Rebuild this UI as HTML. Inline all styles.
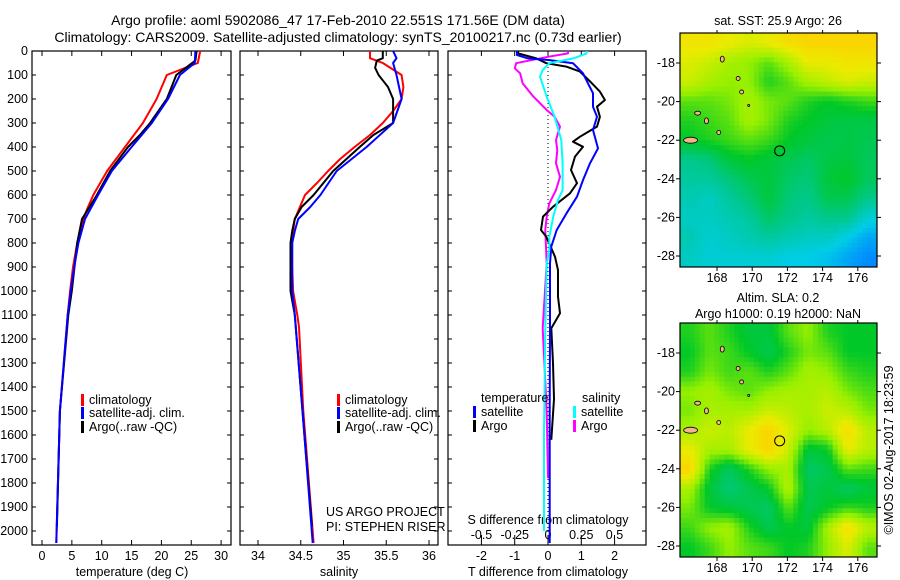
<!DOCTYPE html>
<html><head><meta charset="utf-8"><style>
html,body{margin:0;padding:0;background:#fff}
svg{display:block;font-family:"Liberation Sans",sans-serif}
text{font-size:12.5px;fill:#000}
</style></head><body>
<svg id="svg" width="900" height="580" viewBox="0 0 900 580" xmlns="http://www.w3.org/2000/svg">
<defs>
<clipPath id="clipTop"><rect x="680" y="33" width="197" height="234"/></clipPath>
<clipPath id="clipBot"><rect x="680" y="323" width="197" height="234"/></clipPath>
</defs>
<text x="338" y="25" text-anchor="middle" style="font-size:14px">Argo profile: aoml 5902086_47 17-Feb-2010 22.551S 171.56E (DM data)</text>
<text x="338" y="42" text-anchor="middle" style="font-size:14px">Climatology: CARS2009. Satellite-adjusted climatology: synTS_20100217.nc (0.73d earlier)</text>
<g id="g"></g>
</svg>
<script>
// ---- data ----
var depthTicks=[0,100,200,300,400,500,600,700,800,900,1000,1100,1200,1300,1400,1500,1600,1700,1800,1900,2000];
var tTicks=[0,5,10,15,20,25,30];
var sTicks=[34,34.5,35,35.5,36];
var dTTicks=[-2,-1,0,1,2];
var dSTicks=[-0.5,-0.25,0,0.25,0.5];
var dSTickLabels=["-0.5","-0.25","0","0.25","0.5"];

var tClimDepth=[0,50,100,200,300,400,500,600,650,700,800,900,1000,1100,1500,2050];
var tClimVal=[26.5,26.1,20.9,19.2,16.9,13.9,10.9,8.6,7.7,6.9,5.9,5.2,4.7,4.3,3.0,2.4];
var tSatDepth=[0,50,100,200,300,400,500,600,700,800,900,1000,1100,1500,2050];
var tSatVal=[25.7,25.6,23.1,21.1,18.4,15.0,11.7,9.4,7.2,6.1,5.4,4.8,4.3,3.0,2.4];
var tArgoDepth=[0,40,100,200,300,350,400,500,600,700,800,1000,1100,1500,1980];
var tArgoVal=[25.9,25.7,22.5,20.9,18.1,16.4,14.4,11.4,9.2,6.7,5.9,5.0,4.4,3.0,2.5];

var sClimDepth=[0,30,50,100,150,200,250,300,350,400,450,500,550,600,650,700,750,800,900,1000,1100,1150,1500,2050];
var sClimVal=[35.31,35.31,35.46,35.68,35.70,35.68,35.58,35.46,35.31,35.13,34.96,34.82,34.69,34.55,34.49,34.43,34.41,34.40,34.40,34.41,34.46,34.48,34.53,34.65];
var sSatDepth=[0,30,50,100,200,300,400,500,600,650,700,750,800,1000,1100,1500,2050];
var sSatVal=[35.58,35.62,35.58,35.62,35.68,35.58,35.27,34.92,34.73,34.61,34.47,34.43,34.40,34.40,34.43,34.52,34.64];
var sArgoDepth=[0,30,40,70,100,150,200,300,350,400,500,600,650,700,750,800,1000,1100,1500,1980];
var sArgoVal=[35.46,35.46,35.39,35.37,35.41,35.52,35.58,35.58,35.35,35.19,34.88,34.65,34.51,34.43,34.40,34.38,34.38,34.43,34.52,34.63];

var dTSatDepth=[0,17,31,38,51,93,135,176,232,274,329,406,468,538,607,676,746,815,885,1155,1500,2050];
var dTSatVal=[-0.93,-0.93,-0.6,0.05,0.75,1.05,1.2,1.35,1.35,1.47,1.35,1.5,1.26,1.05,0.87,0.56,0.26,0.1,0.06,0.06,0.05,0.05];
var dTArgoDepth=[0,10,31,51,65,86,135,169,204,232,274,315,357,378,399,440,496,551,593,649,690,746,774,857,913,1024,1093,1155,1300,1450,1620];
var dTArgoVal=[-0.9,-0.9,-0.35,-0.05,0.55,0.96,1.32,1.56,1.71,1.47,1.56,1.47,0.96,0.75,1.05,0.81,0.69,0.87,0.66,0.15,-0.15,-0.21,-0.05,0.21,0.3,0.3,0.36,0.1,0.15,0.18,0.1];
var dSArgoDepth=[0,10,24,51,72,93,135,190,246,274,315,371,413,468,524,579,635,690,746,885,1155,1500,1780];
var dSArgoVal=[0.15,0.15,0.0,-0.24,-0.25,-0.21,-0.19,-0.11,-0.01,0.05,0.09,0.06,0.07,0.06,0.09,0.06,0.01,-0.01,-0.02,-0.01,-0.04,-0.01,0.0];
var dSSatDepth=[0,10,31,51,79,107,190,274,371,468,579,621,690,774,829,885,1155,1600,2000];
var dSSatVal=[0.29,0.29,0.19,0.01,-0.04,-0.06,-0.01,0.05,0.1,0.11,0.11,0.075,0.04,0.01,0.01,-0.01,-0.02,-0.03,-0.03];

var mapLonTicks=[168,170,172,174,176];
var mapLatTicks=[-18,-20,-22,-24,-26,-28];
var sstGrid=[
[.82,.82,.8,.78,.8,.84,.86,.86,.86,.86],
[.78,.76,.72,.7,.66,.72,.8,.8,.82,.82],
[.76,.72,.7,.7,.62,.66,.72,.75,.78,.76],
[.66,.66,.68,.72,.68,.66,.62,.6,.62,.64],
[.62,.64,.66,.72,.68,.62,.6,.58,.57,.57],
[.6,.62,.64,.66,.64,.6,.58,.56,.57,.56],
[.5,.52,.58,.6,.58,.56,.54,.57,.58,.55],
[.48,.48,.52,.56,.58,.54,.52,.58,.6,.55],
[.46,.44,.48,.52,.58,.52,.5,.56,.56,.5],
[.44,.44,.46,.48,.54,.5,.48,.5,.5,.42],
[.46,.42,.44,.46,.48,.46,.44,.44,.4,.34],
[.44,.42,.42,.42,.42,.4,.4,.38,.34,.3]];
var slaGrid=[
[.62,.66,.62,.58,.58,.66,.7,.62,.6,.6],
[.6,.66,.64,.6,.56,.62,.68,.66,.6,.6],
[.62,.68,.64,.66,.62,.66,.72,.7,.64,.62],
[.7,.72,.68,.66,.7,.72,.72,.74,.68,.65],
[.68,.72,.72,.72,.76,.74,.72,.76,.74,.68],
[.72,.76,.74,.8,.86,.78,.7,.74,.84,.74],
[.8,.72,.72,.8,.86,.76,.58,.6,.8,.74],
[.86,.62,.54,.62,.7,.72,.54,.56,.66,.64],
[.72,.58,.52,.56,.6,.74,.56,.58,.54,.58],
[.68,.6,.58,.56,.54,.66,.56,.6,.64,.62],
[.64,.7,.72,.62,.56,.6,.58,.72,.84,.74],
[.6,.64,.7,.66,.64,.6,.62,.7,.78,.66]];
var argoLon=171.56, argoLat=-22.55;

// ---- helpers ----
var NS="http://www.w3.org/2000/svg";
var G=document.getElementById('g');
function mk(tag,attrs,parent){var e=document.createElementNS(NS,tag);for(var k in attrs)e.setAttribute(k,attrs[k]);(parent||G).appendChild(e);return e;}
function txt(x,y,s,anchor,name,size){var t=mk('text',{x:x,y:y,'text-anchor':anchor||'start'});if(size)t.style.fontSize=size+'px';t.textContent=s;


return t;}
var PT=51, PB=545;
function yD(d){return 51+d*0.24;}
var panels=[{x0:32,x1:231},{x0:240,x1:438},{x0:448,x1:646}];
function xT(v){return 42+v*5.97;}
function xS(v){return 258+(v-34)*85.5;}
function xDT(v){return 548+v*33.3;}
function xDS(v){return 548+v*133;}

function line(depths,vals,xf,color,name,w){
  var pts=depths.map(function(d,i){return xf(vals[i]).toFixed(1)+','+yD(d).toFixed(1);}).join(' ');
  var p=mk('polyline',{points:pts,fill:'none',stroke:color,'stroke-width':w||2,'stroke-linejoin':'round'});
  
  
}

panels.forEach(function(p,i){
  var r=mk('rect',{x:p.x0,y:PT,width:p.x1-p.x0,height:PB-PT,fill:'none',stroke:'#000','stroke-width':1.2});
  
  
  depthTicks.forEach(function(d){
    var y=yD(d);
    mk('line',{x1:p.x0,x2:p.x0+4,y1:y,y2:y,stroke:'#000'});
    mk('line',{x1:p.x1-4,x2:p.x1,y1:y,y2:y,stroke:'#000'});
  });
});
depthTicks.forEach(function(d){txt(28,yD(d)+4,String(d),'end','y-tick-label');});

tTicks.forEach(function(v){var x=xT(v);mk('line',{x1:x,x2:x,y1:PB,y2:PB-5,stroke:'#000'});mk('line',{x1:x,x2:x,y1:PT,y2:PT+5,stroke:'#000'});txt(x,560,String(v),'middle','x-tick-label-temperature');});
txt(132,576,'temperature (deg C)','middle','x-axis-title-temperature');
sTicks.forEach(function(v){var x=xS(v);mk('line',{x1:x,x2:x,y1:PB,y2:PB-5,stroke:'#000'});mk('line',{x1:x,x2:x,y1:PT,y2:PT+5,stroke:'#000'});txt(x,560,String(v),'middle','x-tick-label-salinity');});
txt(339,576,'salinity','middle','x-axis-title-salinity');
dTTicks.forEach(function(v){var x=xDT(v);mk('line',{x1:x,x2:x,y1:PB,y2:PB-5,stroke:'#000'});mk('line',{x1:x,x2:x,y1:PT,y2:PT+5,stroke:'#000'});txt(x,560,String(v),'middle','x-tick-label-t-diff');});
dSTicks.forEach(function(v,i){var x=xDS(v);mk('line',{x1:x,x2:x,y1:PB-5,y2:PB-10,stroke:'#000'});txt(x,539,dSTickLabels[i],'middle','x-tick-label-s-diff');});
txt(548,524,'S difference from climatology','middle','s-diff-axis-title');
txt(548,576,'T difference from climatology','middle','x-axis-title-t-diff');
var zl=mk('line',{x1:548,x2:548,y1:PT,y2:PB,stroke:'#000','stroke-dasharray':'1,3'});



line(tClimDepth,tClimVal,xT,'#ff0000','temperature-climatology-line');
line(tArgoDepth,tArgoVal,xT,'#000000','temperature-argo-line');
line(tSatDepth,tSatVal,xT,'#0000ff','temperature-satellite-line');
line(sClimDepth,sClimVal,xS,'#ff0000','salinity-climatology-line');
line(sArgoDepth,sArgoVal,xS,'#000000','salinity-argo-line');
line(sSatDepth,sSatVal,xS,'#0000ff','salinity-satellite-line');
line(dSArgoDepth,dSArgoVal,xDS,'#ff00ff','s-diff-argo-line');
line(dTArgoDepth,dTArgoVal,xDT,'#000000','t-diff-argo-line');
line(dTSatDepth,dTSatVal,xDT,'#0000ff','t-diff-satellite-line');
line(dSSatDepth,dSSatVal,xDS,'#00ffff','s-diff-satellite-line');

function legItem(x,y,color,label,name){
  var r=mk('rect',{x:x,y:y-10,width:3,height:12,fill:color});
  
  
  txt(x+8,y,label,'start',name);
}
[[81,'legend-panel1'],[337,'legend-panel2']].forEach(function(a){
  legItem(a[0],404,'#ff0000','climatology',a[1]+'-climatology');
  legItem(a[0],417,'#0000ff','satellite-adj. clim.',a[1]+'-satellite');
  legItem(a[0],431,'#000000','Argo(..raw -QC)',a[1]+'-argo');
});
txt(481,402,'temperature','start','legend-temperature-heading');
legItem(473,416,'#0000ff','satellite','legend-t-satellite');
legItem(473,430,'#000000','Argo','legend-t-argo');
txt(582,402,'salinity','start','legend-salinity-heading');
legItem(573,416,'#00ffff','satellite','legend-s-satellite');
legItem(573,430,'#ff00ff','Argo','legend-s-argo');
txt(326,516,'US ARGO PROJECT','start','project-label');
txt(326,531,'PI: STEPHEN RISER','start','pi-label');

// maps
function cmap(v){
  var st=[[0.3,[0,140,255]],[0.4,[0,205,230]],[0.5,[0,200,140]],[0.6,[0,200,40]],[0.7,[150,240,0]],[0.8,[235,235,0]],[0.88,[255,205,0]],[0.95,[255,170,0]]];
  if(v<=st[0][0])return 'rgb('+st[0][1]+')';
  for(var i=1;i<st.length;i++){if(v<=st[i][0]){var a=st[i-1],b=st[i],f=(v-a[0])/(b[0]-a[0]);
    return 'rgb('+[0,1,2].map(function(k){return Math.round(a[1][k]+f*(b[1][k]-a[1][k]));}).join(',')+')';}}
  return 'rgb('+st[st.length-1][1]+')';
}
function sample(grid,fr,fc){
  var rows=grid.length,cols=grid[0].length;
  fr=Math.max(0,Math.min(rows-1,fr));fc=Math.max(0,Math.min(cols-1,fc));
  var r0=Math.floor(fr),c0=Math.floor(fc),r1=Math.min(rows-1,r0+1),c1=Math.min(cols-1,c0+1),a=fr-r0,b=fc-c0;
  return grid[r0][c0]*(1-a)*(1-b)+grid[r0][c1]*(1-a)*b+grid[r1][c0]*a*(1-b)+grid[r1][c1]*a*b;
}
function mapLon(l){return 717+(l-168)*17.6;}
function drawMap(grid,y0,clip,name){
  var x0=680,w=197,h=234,SUB=4;
  var frame=mk('g',{'clip-path':'url(#'+clip+')'});
  
  
  var rows=grid.length,cols=grid[0].length,NR=rows*SUB,NC=cols*SUB,cw=w/NC,ch=h/NR;
  for(var r=0;r<NR;r++)for(var c=0;c<NC;c++){
    var v=sample(grid,(r+0.5)/SUB-0.5,(c+0.5)/SUB-0.5);
    var cell=mk('rect',{x:(x0+c*cw).toFixed(2),y:(y0+r*ch).toFixed(2),width:(cw+0.6).toFixed(2),height:(ch+0.6).toFixed(2),fill:cmap(v)},frame);
    
    
  }
  var isl=[[168.3,-17.8,2,3],[169.2,-18.8,2,2],[169.4,-19.5,2,2],[166.9,-20.6,3,2],[167.4,-21.0,2,3],[168.1,-21.6,2,2],[166.5,-22.0,7,3],[169.8,-20.2,1,1]];
  isl.forEach(function(s){var e=mk('ellipse',{cx:mapLon(s[0]),cy:y0+30+(-s[1]-18)*19.3,rx:s[2],ry:s[3],fill:'#f5b48c',stroke:'#000','stroke-width':0.8},frame);
    
    });
  var bd=mk('rect',{x:x0,y:y0,width:w,height:h,fill:'none',stroke:'#000','stroke-width':1.2});
  
  
  var c=mk('circle',{cx:mapLon(argoLon),cy:y0+30+(-argoLat-18)*19.3,r:5,fill:'none',stroke:'#000','stroke-width':1});
  
  
  mapLatTicks.forEach(function(l){var y=y0+30+(-l-18)*19.3;mk('line',{x1:x0+w,x2:x0+w+4,y1:y,y2:y,stroke:'#000'});mk('line',{x1:x0-4,x2:x0,y1:y,y2:y,stroke:'#000'});txt(675,y+4,String(l),'end','map-lat-label');});
  mapLonTicks.forEach(function(l){var x=mapLon(l);mk('line',{x1:x,x2:x,y1:y0+h,y2:y0+h+4,stroke:'#000'});mk('line',{x1:x,x2:x,y1:y0,y2:y0-3,stroke:'#000'});txt(x,y0+h+15,String(l),'middle','map-lon-label');});
}
drawMap(sstGrid,33,'clipTop','sst-map');
drawMap(slaGrid,323,'clipBot','sla-map');
txt(778,25,'sat. SST: 25.9 Argo: 26','middle','sst-map-title');
txt(778,302,'Altim. SLA: 0.2','middle','sla-map-title-1');
txt(778,318,'Argo h1000: 0.19 h2000: NaN','middle','sla-map-title-2');
var rt=txt(0,0,'\u00a9IMOS 02-Aug-2017 18:23:59','middle','timestamp-label');
rt.setAttribute('transform','translate(893,450) rotate(-90)');
</script>
</body></html>
